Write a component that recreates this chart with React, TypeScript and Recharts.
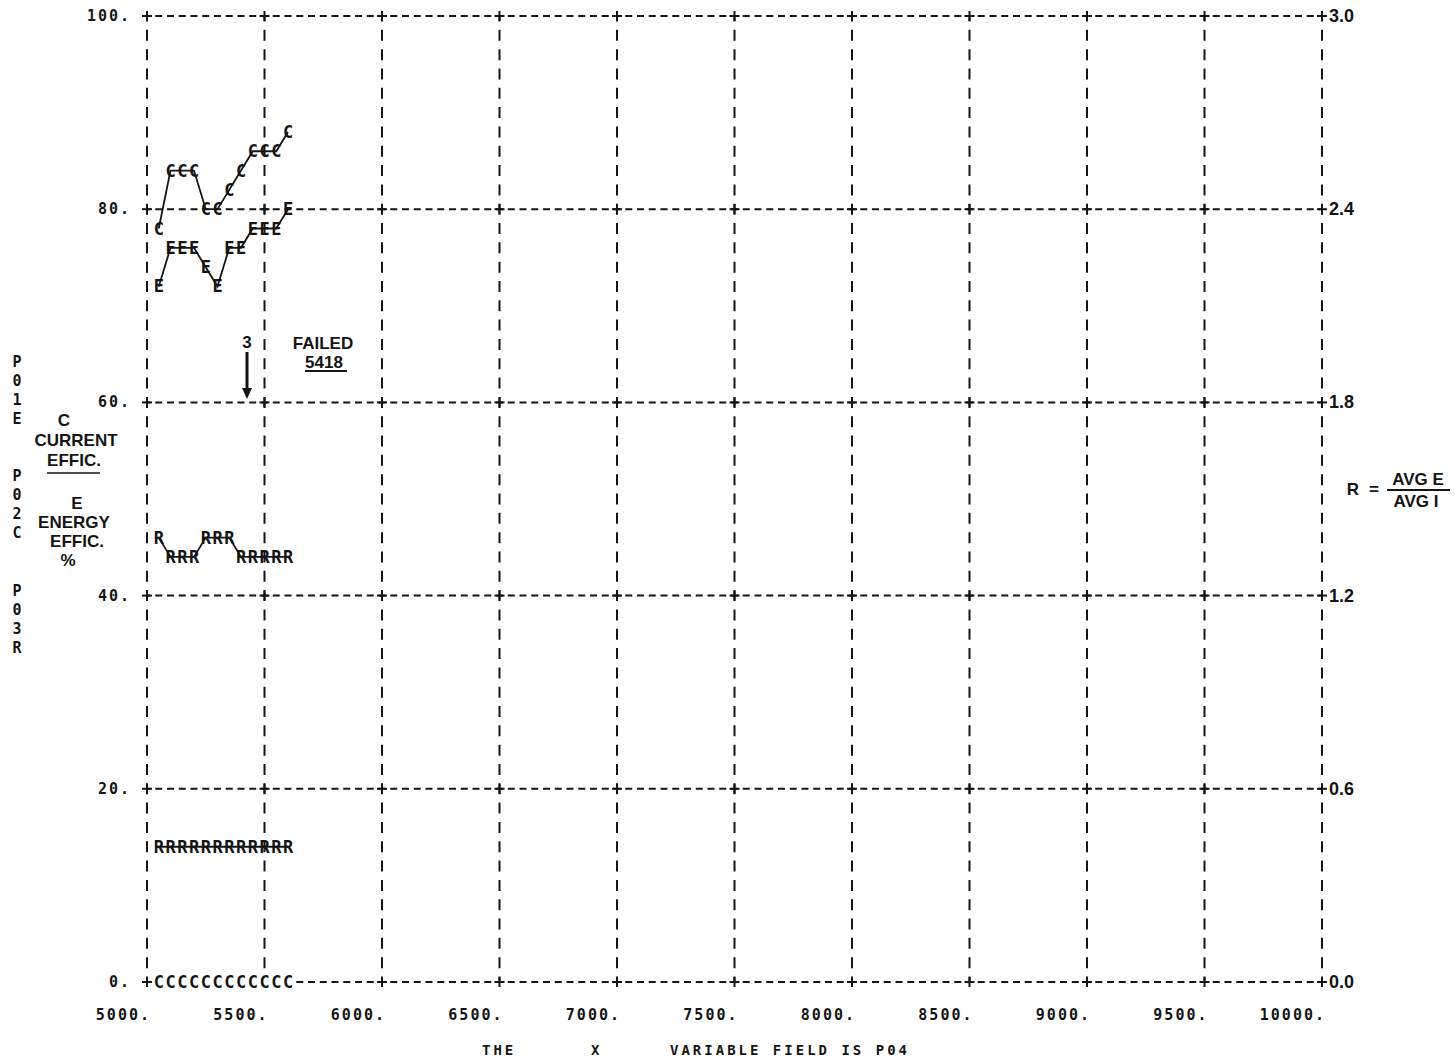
import { LineChart, Line, XAxis, YAxis, CartesianGrid, ReferenceDot } from 'recharts';

// x variable (field P04) — one print column per 50 units
const loadings = [5050, 5100, 5150, 5200, 5250, 5300, 5350, 5400, 5450, 5500, 5550, 5600];
// P02C current efficiency, %
const currentEffic = [78, 84, 84, 84, 80, 80, 82, 84, 86, 86, 86, 88];
// P01E energy efficiency, %
const energyEffic = [72, 76, 76, 76, 74, 72, 76, 76, 78, 78, 78, 80];
// P03R ratio R = avg E / avg I (right scale)
const ratioR = [1.38, 1.32, 1.32, 1.32, 1.38, 1.38, 1.38, 1.32, 1.32, 1.32, 1.32, 1.32];
// second set printed low on the page
const ratioLow = [0.42, 0.42, 0.42, 0.42, 0.42, 0.42, 0.42, 0.42, 0.42, 0.42, 0.42, 0.42];
const currentLow = [0, 0, 0, 0, 0, 0, 0, 0, 0, 0, 0, 0];

const xTicks = [5000, 5500, 6000, 6500, 7000, 7500, 8000, 8500, 9000, 9500, 10000];
const leftTicks = [0, 20, 40, 60, 80, 100];
const rightTicks = [0, 0.6, 1.2, 1.8, 2.4, 3.0];

const data = loadings.map((x, i) => ({
  x,
  C: currentEffic[i],
  E: energyEffic[i],
  R: ratioR[i],
  R2: ratioLow[i],
  C2: currentLow[i],
}));

const INK = '#151515';
const MONO = '"DejaVu Sans Mono", "Liberation Mono", monospace';
const SANS = '"Liberation Sans", Arial, sans-serif';

const letterDot = (ch: string, mask = false) => (props: any) => {
  const { cx, cy, index } = props;
  if (cx == null || cy == null) return <g key={`${ch}-${index}`} />;
  return (
    <g key={`${ch}-${index}`}>
      {mask && <rect x={cx - 5.5} y={cy - 8} width={11} height={16} fill="#fff" />}
      <text x={cx} y={cy} textAnchor="middle" dominantBaseline="central"
        fontFamily={MONO} fontWeight="bold" fontSize={17} fill={INK}>{ch}</text>
    </g>
  );
};

const LeftTick = (p: any) => (
  <text x={p.x - 16} y={p.y} textAnchor="end" dominantBaseline="central"
    fontFamily={MONO} fontWeight="bold" fontSize={15} letterSpacing={2} fill={INK}>{p.payload.value}.</text>
);

const RightTick = (p: any) => (
  <text x={p.x + 7} y={p.y} textAnchor="start" dominantBaseline="central"
    fontFamily={SANS} fontWeight="bold" fontSize={18} fill={INK}>{Number(p.payload.value).toFixed(1)}</text>
);

const BottomTick = (p: any) => (
  <text x={p.x + 4} y={p.y + 33} textAnchor="end" dominantBaseline="central"
    fontFamily={MONO} fontWeight="bold" fontSize={15} letterSpacing={2} fill={INK}>{p.payload.value}.</text>
);

const plus = (props: any) => {
  const { cx, cy } = props;
  return (
    <g>
      <line x1={cx - 5} y1={cy} x2={cx + 5} y2={cy} stroke={INK} strokeWidth={2} />
      <line x1={cx} y1={cy - 5} x2={cx} y2={cy + 5} stroke={INK} strokeWidth={2} />
    </g>
  );
};

function App() {
  return (
    <div style={{ position: 'absolute', left: 0, top: 0, width: 1455, height: 1063, background: '#fff' }}>
      <LineChart width={1455} height={1063} data={data}
        margin={{ top: 16, right: 0, bottom: 0, left: 0 }}>
        <CartesianGrid
          horizontal={(p: any) => (
            <line key={p.key} x1={p.x1} y1={p.y1} x2={p.x2} y2={p.y2} stroke={INK}
              strokeWidth={2} strokeDasharray="7 4.75" strokeDashoffset={3.5} />
          )}
          vertical={(p: any) => (
            <line key={p.key} x1={p.x1} y1={p.y1} x2={p.x2} y2={p.y2} stroke={INK}
              strokeWidth={2} strokeDasharray="11 8.32" strokeDashoffset={5.5} />
          )}
        />
        <XAxis dataKey="x" type="number" domain={[5000, 10000]} ticks={xTicks} interval={0}
          height={81} axisLine={false} tickLine={false} tickSize={0} tickMargin={0} tick={<BottomTick />} />
        <YAxis domain={[0, 100]} ticks={leftTicks} interval={0} width={147}
          axisLine={false} tickLine={false} tickSize={0} tickMargin={0} tick={<LeftTick />} />
        <YAxis yAxisId="right" orientation="right" domain={[0, 3]} ticks={rightTicks} interval={0}
          width={133} axisLine={false} tickLine={false} tickSize={0} tickMargin={0} tick={<RightTick />} />
        {xTicks.flatMap((xv) => leftTicks.map((yv) => (
          <ReferenceDot key={`p-${xv}-${yv}`} x={xv} y={yv} r={0} shape={plus} />
        )))}
        <Line dataKey="C" type="linear" stroke={INK} strokeWidth={1.8} dot={letterDot('C')} isAnimationActive={false} />
        <Line dataKey="E" type="linear" stroke={INK} strokeWidth={1.8} dot={letterDot('E')} isAnimationActive={false} />
        <Line dataKey="R" yAxisId="right" type="linear" stroke={INK} strokeWidth={1.8} dot={letterDot('R')} isAnimationActive={false} />
        <Line dataKey="R2" yAxisId="right" type="linear" stroke={INK} strokeWidth={1.8} dot={letterDot('R')} isAnimationActive={false} />
        <Line dataKey="C2" type="linear" stroke="none" dot={letterDot('C', true)} isAnimationActive={false} />
      </LineChart>

      <svg width={1455} height={1063} style={{ position: 'absolute', left: 0, top: 0, pointerEvents: 'none' }}>
        {/* vertical variable list */}
        {[['P', 362], ['0', 381], ['1', 400], ['E', 419], ['P', 476], ['0', 495], ['2', 514], ['C', 533],
          ['P', 591], ['0', 610], ['3', 629], ['R', 648]].map(([ch, y], i) => (
          <text key={`v${i}`} x={17} y={y as number} textAnchor="middle" dominantBaseline="central"
            fontFamily={MONO} fontWeight="bold" fontSize={15} fill={INK}>{ch}</text>
        ))}
        <g fontFamily={SANS} fontWeight="bold" fontSize={17} fill={INK} textAnchor="middle">
          <text x={64} y={420} dominantBaseline="central">C</text>
          <text x={76} y={440} dominantBaseline="central">CURRENT</text>
          <text x={74} y={460} dominantBaseline="central">EFFIC.</text>
          <text x={77} y={503} dominantBaseline="central">E</text>
          <text x={74} y={522} dominantBaseline="central">ENERGY</text>
          <text x={77} y={541} dominantBaseline="central">EFFIC.</text>
          <text x={68} y={560} dominantBaseline="central">%</text>
          <text x={247} y={342} dominantBaseline="central">3</text>
          <text x={323} y={343} dominantBaseline="central">FAILED</text>
          <text x={324} y={362} dominantBaseline="central">5418</text>
          <text x={1353} y={489} dominantBaseline="central">R</text>
          <text x={1374} y={489} dominantBaseline="central">=</text>
          <text x={1418} y={479} dominantBaseline="central">AVG E</text>
          <text x={1416} y={501} dominantBaseline="central">AVG I</text>
        </g>
        <line x1={47} y1={473} x2={100} y2={473} stroke={INK} strokeWidth={1.5} />
        <line x1={305} y1={371} x2={347} y2={371} stroke={INK} strokeWidth={2} />
        <line x1={1387} y1={490} x2={1450} y2={490} stroke={INK} strokeWidth={2} />
        <line x1={247} y1={352} x2={247} y2={390} stroke={INK} strokeWidth={3} />
        <polygon points="242,388 252,388 247,399" fill={INK} />
        <g fontFamily={MONO} fontWeight="bold" fontSize={14} letterSpacing={3} fill={INK} dominantBaseline="central">
          <text x={482} y={1050}>THE</text>
          <text x={591} y={1050}>X</text>
          <text x={670} y={1050}>VARIABLE FIELD IS P04</text>
        </g>
      </svg>
    </div>
  );
}

export default App;
